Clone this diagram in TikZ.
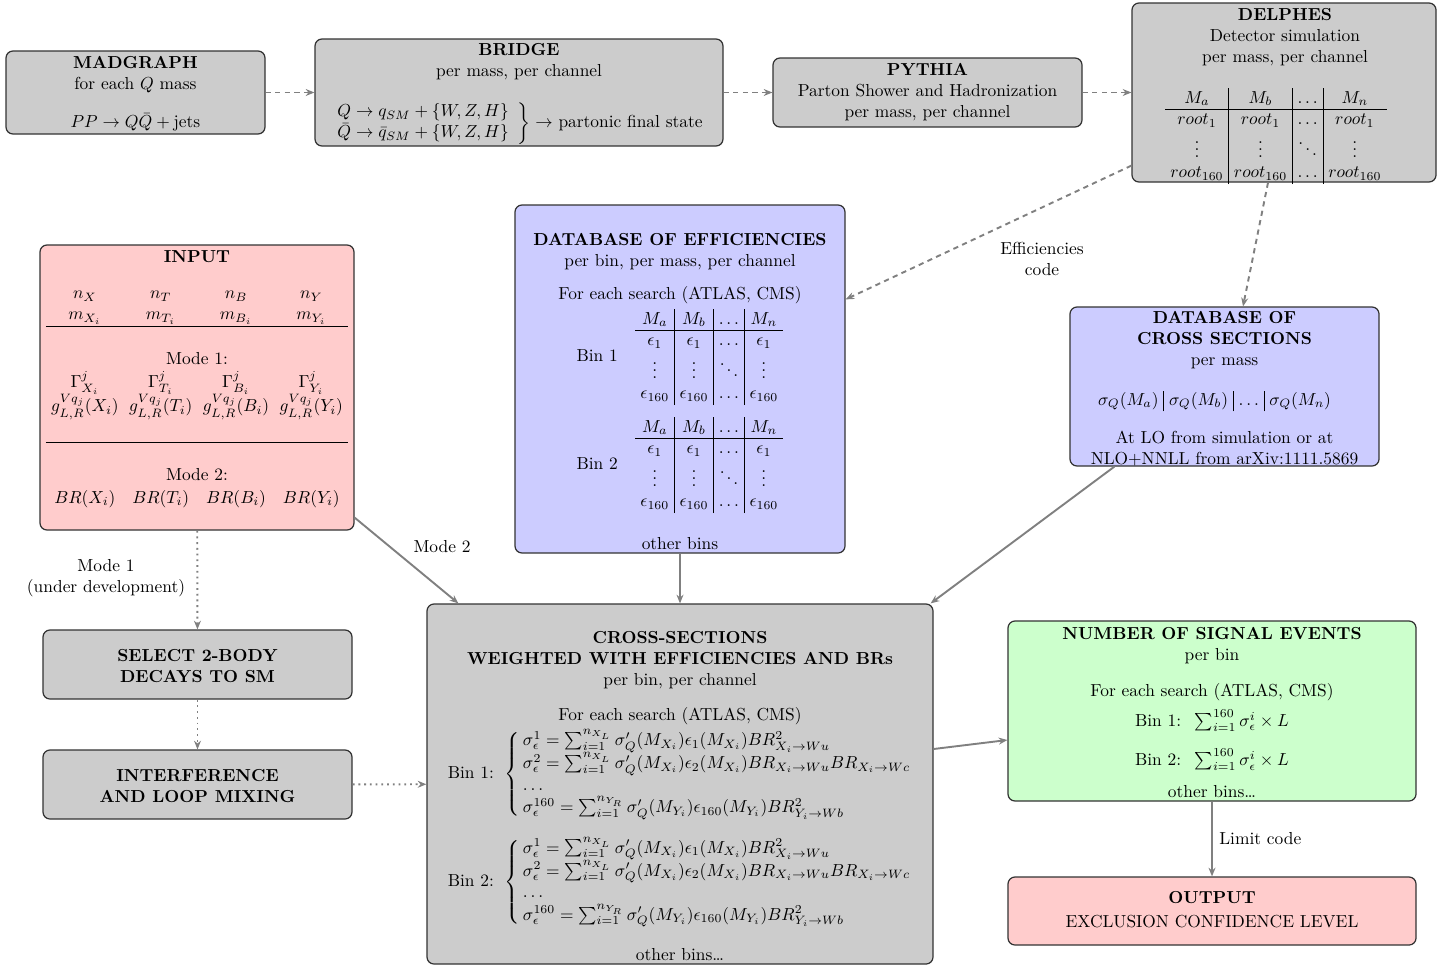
\documentclass[tikz,border=0pt]{standalone}
\usetikzlibrary{arrows.meta,fit,calc}
\setlength\tabcolsep{3pt}
\begin{document}
\begin{tikzpicture}[x=0.575pt,y=-0.575pt,
 mybox/.style={draw=black!80, line width=0.7pt, rounded corners=4pt, inner sep=0pt},
 greybox/.style={mybox, fill=gray!40},
 bluebox/.style={mybox, fill=blue!20},
 redbox/.style={mybox, fill=red!20},
 greenbox/.style={mybox, fill=green!20},
 txt/.style={anchor=north, align=center, inner sep=0pt},
 conn/.style={draw=gray, line width=1.1pt, -{Stealth[length=5pt,width=4pt]}},
 dashconn/.style={conn, dash pattern=on 3pt off 2.5pt},
 dotconn/.style={conn, dash pattern=on 1.1pt off 2.2pt},
 lbl/.style={align=center, inner sep=0pt}
]
\useasboundingbox (0,0) rectangle (1437,965);

% boxes
\node[greybox, fit={(6,51) (265,134)}] (mad) {};
\node[greybox, fit={(315,39) (723,146)}] (bridge) {};
\node[greybox, fit={(773,58) (1082,127)}] (pythia) {};
\node[greybox, fit={(1132,3) (1436,182)}] (delphes) {};
\node[redbox, fit={(40,245) (354,530)}] (input) {};
\node[bluebox, fit={(515,205) (845,553)}] (dbeff) {};
\node[bluebox, fit={(1070,307) (1379,466)}] (dbcross) {};
\node[greybox, fit={(43,630) (352,699)}] (select) {};
\node[greybox, fit={(43,750) (352,819)}] (interf) {};
\node[greybox, fit={(427,604) (933,964)}] (cross) {};
\node[greenbox, fit={(1008,621) (1416,801)}] (signal) {};
\node[redbox, fit={(1008,877) (1416,945)}] (output) {};

% contents
\node[txt] (madtxt) at (135.5,56) {\textbf{MADGRAPH}\\ for each $Q$ mass\\[10pt] $PP\rightarrow Q\bar{Q}+\mathrm{jets}$};

\node[txt] (bridgetxt) at (519,43) {\textbf{BRIDGE}\\ per mass, per channel\\[12pt]
 $\left.\begin{array}{@{}l} Q\rightarrow q_{SM}+\{W,Z,H\}\\ \bar{Q}\rightarrow\bar{q}_{SM}+\{W,Z,H\}\end{array}\right\}\rightarrow$ partonic final state};

\node[txt] (pythiatxt) at (927.5,63) {\textbf{PYTHIA}\\ Parton Shower and Hadronization\\ per mass, per channel};

\node[txt] (delphestxt) at (1285,8) {\textbf{DELPHES}\\ Detector simulation\\ per mass, per channel\\[11.5pt]
 \begin{tabular}[t]{c|c|c|c}
 $M_a$ & $M_b$ & $\dots$ & $M_n$\\ \hline
 $root_1$ & $root_1$ & $\dots$ & $root_1$\\
 $\vdots$ & $\vdots$ & $\ddots$ & $\vdots$\\
 $root_{160}$ & $root_{160}$ & $\dots$ & $root_{160}$
 \end{tabular}\kern10.5pt};

\node[txt] (inputtxt) at (197,250) {\textbf{INPUT}\\[9pt]
 \begin{tabular}[t]{cccc}
 $n_X$ & $n_T$ & $n_B$ & $n_Y$\\
 $m_{X_i}$ & $m_{T_i}$ & $m_{B_i}$ & $m_{Y_i}$\\ \hline
 \multicolumn{4}{c}{}\\[1.5pt]
 \multicolumn{4}{c}{Mode 1:}\\
 $\Gamma^j_{X_i}$ & $\Gamma^j_{T_i}$ & $\Gamma^j_{B_i}$ & $\Gamma^j_{Y_i}$\\
 $g^{Vq_j}_{L,R}(X_i)$ & $g^{Vq_j}_{L,R}(T_i)$ & $g^{Vq_j}_{L,R}(B_i)$ & $g^{Vq_j}_{L,R}(Y_i)$\\
 \multicolumn{4}{c}{}\\[1pt] \hline
 \multicolumn{4}{c}{}\\[1.3pt]
 \multicolumn{4}{c}{Mode 2:}\\[1pt]
 $BR(X_i)$ & $BR(T_i)$ & $BR(B_i)$ & $BR(Y_i)$
 \end{tabular}};

\node[txt] (dbefftxt) at (680,233.5) {\textbf{DATABASE OF EFFICIENCIES}\\ per bin, per mass, per channel\\[7pt]
 For each search (ATLAS, CMS)\\[2pt]
 Bin 1\hspace{10pt}\begin{tabular}{c|c|c|c}
 $M_a$ & $M_b$ & $\dots$ & $M_n$\\ \hline
 $\epsilon_1$ & $\epsilon_1$ & $\dots$ & $\epsilon_1$\\
 $\vdots$ & $\vdots$ & $\ddots$ & $\vdots$\\
 $\epsilon_{160}$ & $\epsilon_{160}$ & $\dots$ & $\epsilon_{160}$
 \end{tabular}\\[6pt]
 Bin 2\hspace{10pt}\begin{tabular}{c|c|c|c}
 $M_a$ & $M_b$ & $\dots$ & $M_n$\\ \hline
 $\epsilon_1$ & $\epsilon_1$ & $\dots$ & $\epsilon_1$\\
 $\vdots$ & $\vdots$ & $\ddots$ & $\vdots$\\
 $\epsilon_{160}$ & $\epsilon_{160}$ & $\dots$ & $\epsilon_{160}$
 \end{tabular}\\[13pt]
 other bins};

\node[txt] (dbcrosstxt) at (1224.5,311) {\textbf{DATABASE OF}\\ \textbf{CROSS SECTIONS}\\ per mass\\[11pt]
 \begin{tabular}[t]{c|c|c|c}
 $\sigma_Q(M_a)$ & $\sigma_Q(M_b)$ & $\dots$ & $\sigma_Q(M_n)$
 \end{tabular}\kern11.5pt\\[10pt]
 At LO from simulation or at\\ NLO+NNLL from arXiv:1111.5869};

\node[txt] (selecttxt) at (197.5,649) {\textbf{SELECT 2-BODY}\\ \textbf{DECAYS TO SM}};
\node[txt] (interftxt) at (197.5,769) {\textbf{INTERFERENCE}\\ \textbf{AND LOOP MIXING}};

\node[txt] (crosstxt) at (680,631) {\textbf{CROSS-SECTIONS}\\ \textbf{WEIGHTED WITH EFFICIENCIES AND BRs}\\ per bin, per channel\\[8pt]
 For each search (ATLAS, CMS)\\[2pt]
 Bin 1:\, $\left\{\begin{array}{@{\,}l@{}}
 \sigma^1_\epsilon=\sum_{i=1}^{n_{X_L}}\sigma'_Q(M_{X_i})\epsilon_1(M_{X_i})BR^2_{X_i\rightarrow Wu}\\
 \sigma^2_\epsilon=\sum_{i=1}^{n_{X_L}}\sigma'_Q(M_{X_i})\epsilon_2(M_{X_i})BR_{X_i\rightarrow Wu}BR_{X_i\rightarrow Wc}\\
 \dots\\
 \sigma^{160}_\epsilon=\sum_{i=1}^{n_{Y_R}}\sigma'_Q(M_{Y_i})\epsilon_{160}(M_{Y_i})BR^2_{Y_i\rightarrow Wb}
 \end{array}\right.$\\[9pt]
 Bin 2:\, $\left\{\begin{array}{@{\,}l@{}}
 \sigma^1_\epsilon=\sum_{i=1}^{n_{X_L}}\sigma'_Q(M_{X_i})\epsilon_1(M_{X_i})BR^2_{X_i\rightarrow Wu}\\
 \sigma^2_\epsilon=\sum_{i=1}^{n_{X_L}}\sigma'_Q(M_{X_i})\epsilon_2(M_{X_i})BR_{X_i\rightarrow Wu}BR_{X_i\rightarrow Wc}\\
 \dots\\
 \sigma^{160}_\epsilon=\sum_{i=1}^{n_{Y_R}}\sigma'_Q(M_{Y_i})\epsilon_{160}(M_{Y_i})BR^2_{Y_i\rightarrow Wb}
 \end{array}\right.$\\[11pt]
 other bins\dots};

\node[txt] (signaltxt) at (1212,627) {\textbf{NUMBER OF SIGNAL EVENTS}\\ per bin\\[9pt]
 For each search (ATLAS, CMS)\\[4pt]
 Bin 1: \ $\sum_{i=1}^{160}\sigma^i_\epsilon\times L$\\[9pt]
 Bin 2: \ $\sum_{i=1}^{160}\sigma^i_\epsilon\times L$\\[6pt]
 other bins\dots};

\node[txt] (outputtxt) at (1212,891) {\textbf{OUTPUT}\\[2pt] EXCLUSION CONFIDENCE LEVEL};

% connectors
\draw[dashconn] (mad) -- (bridge);
\draw[dashconn] (bridge) -- (pythia);
\draw[dashconn] (pythia) -- (delphes);
\draw[dashconn] ($(delphes.south west)+(0,-17)$) -- ($(dbeff.north east)+(0,95)$);
\draw[dashconn] ($(delphes.south)+(-16,0)$) -- ($(dbcross.north)+(18.5,0)$);
\draw[conn] ($(input.south east)+(0,-13)$) -- ($(cross.north west)+(32,0)$);
\draw[dotconn] (input) -- (select);
\draw[dotconn] (select) -- (interf);
\draw[dotconn] (interf) -- (cross);
\draw[conn] (dbeff) -- (cross);
\draw[conn] ($(dbcross.south west)+(45,0)$) -- ($(cross.north east)+(-3,0)$);
\draw[conn] ($(cross.east)+(0,-35)$) -- ($(signal.west)+(0,29)$);
\draw[conn] (signal) -- (output);

% connector labels
\node[lbl, anchor=north] (efflbl) at (1042,242) {Efficiencies\\code};
\node[lbl] (mode2lbl) at (442,547) {Mode 2};
\node[lbl] (mode1lbl) at (106,578) {Mode 1\\(under development)};
\node[lbl, anchor=west] (limitlbl) at (1219,839) {Limit code};
\end{tikzpicture}
\end{document}
